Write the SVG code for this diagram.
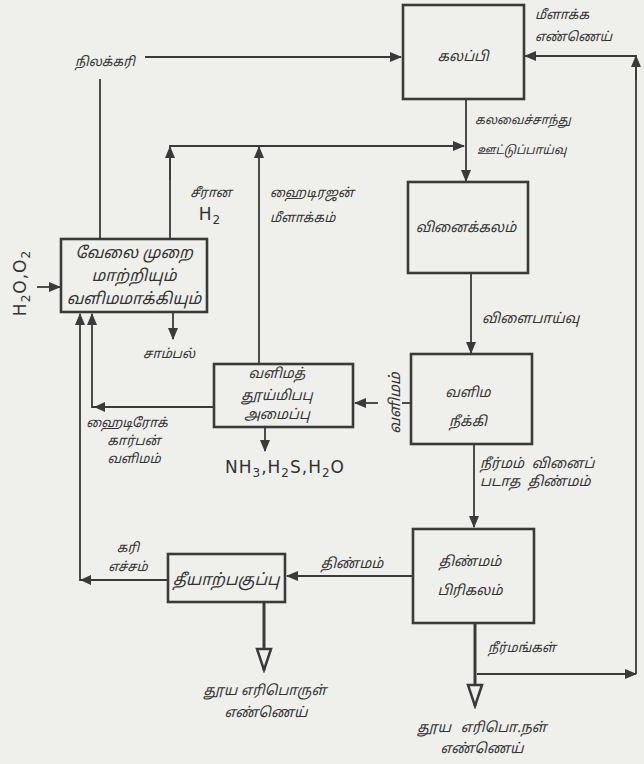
<svg xmlns="http://www.w3.org/2000/svg" width="644" height="764" viewBox="0 0 644 764">
<defs>
<marker id="ar" markerUnits="userSpaceOnUse" markerWidth="12" markerHeight="10" refX="11" refY="5" orient="auto"><path d="M0,0 L12,5 L0,10 z" fill="#3a3a3a"/></marker>
<marker id="op" markerUnits="userSpaceOnUse" markerWidth="26" markerHeight="18" refX="23" refY="9" orient="auto"><path d="M2,2 L23,9 L2,16 z" fill="#efefec" stroke="#3a3a3a" stroke-width="2.5" stroke-linejoin="miter"/></marker>
<style>
.b{fill:none;stroke:#3a3a3a;stroke-width:2.6}
.c{fill:none;stroke:#3a3a3a;stroke-width:1.8}
.t{stroke-width:3}
.ta{font-family:"Noto Sans Tamil","Noto Sans","Lohit Tamil",sans-serif;font-size:13px;font-style:italic;fill:#333}
.tb{font-family:"Noto Sans Tamil","Noto Sans","Lohit Tamil",sans-serif;font-size:14px;font-style:italic;fill:#333;text-anchor:middle}
.f{font-family:"DejaVu Sans","Liberation Sans",sans-serif;font-size:17px;fill:#333;letter-spacing:1px}
.m{text-anchor:middle}
.s12{font-size:12px}
.s14{font-size:14px}
.s15{font-size:15px}
.s16{font-size:16px}
</style>
</defs>
<rect width="644" height="764" fill="#efefec"/>

<g id="mixer"><rect class="b" x="403" y="5" width="121" height="94"/><text class="tb" x="463" y="61">கலப்பி</text></g>
<g id="reactor"><rect class="b" x="408" y="182" width="120" height="91"/><text class="tb" x="466" y="232">வினைக்கலம்</text></g>
<g id="degasser"><rect class="b" x="411" y="354" width="121" height="90"/><text class="tb" x="468" y="397">வளிம</text><text class="tb" x="468" y="426">நீக்கி</text></g>
<g id="solidsep"><rect class="b" x="413" y="529" width="121" height="94"/><text class="tb" x="470" y="566">திண்மம்</text><text class="tb" x="470" y="595">பிரிகலம்</text></g>
<g id="gasifier"><rect class="b" x="61" y="239" width="146" height="73"/><text class="tb s16" x="134" y="258">வேலை முறை</text><text class="tb s16" x="134" y="281">மாற்றியும்</text><text class="tb s16" x="134" y="304">வளிமமாக்கியும்</text></g>
<g id="purifier"><rect class="b" x="214" y="364" width="139" height="63"/><text class="tb" x="277" y="378">வளிமத்</text><text class="tb" x="277" y="400">தூய்மிபபு</text><text class="tb" x="277" y="419">அமைப்பு</text></g>
<g id="filter"><rect class="b" x="168" y="554" width="117" height="48"/><text class="tb s16" x="226" y="585">தீயாற்பகுப்பு</text></g>

<g id="connectors">
<path class="c" d="M145,57 H401" marker-end="url(#ar)"/>
<path class="c" d="M100,79 V239"/>
<path class="c" d="M636,674 V56 H525" marker-end="url(#ar)"/>
<path class="c" d="M636,80 V56" marker-end="url(#ar)"/>
<path class="c" d="M466,99 V181" marker-end="url(#ar)"/>
<path class="c" d="M170,239 V146 H464" marker-end="url(#ar)"/>
<path class="c" d="M170,180 V147" marker-end="url(#ar)"/>
<path class="c" d="M259,364 V147" marker-end="url(#ar)"/>
<path class="c" d="M471,273 V353" marker-end="url(#ar)"/>
<path class="c" d="M411,403 H402"/>
<path class="c" d="M378,403 H355" marker-end="url(#ar)"/>
<path class="c" d="M214,407 H92 V314" marker-end="url(#ar)"/>
<path d="M94,407 L105,402 L105,412 z" fill="#3a3a3a"/>
<path class="c" d="M265,427 V451" marker-end="url(#ar)"/>
<path class="c" d="M173,312 V339" marker-end="url(#ar)"/>
<path class="c" d="M37,287 H60" marker-end="url(#ar)"/>
<path class="c" d="M474,444 V527" marker-end="url(#ar)"/>
<path class="c" d="M413,576 H287" marker-end="url(#ar)"/>
<path class="c" d="M168,580 H80 V314" marker-end="url(#ar)"/>
<path d="M80,580 L91,575 L91,585 z" fill="#3a3a3a"/>
<path class="c t" d="M264,602 V670" marker-end="url(#op)"/>
<path class="c t" d="M475,623 V706" marker-end="url(#op)"/>
<path class="c" d="M477,674 H636" marker-end="url(#ar)"/>
</g>

<g id="labels">
<text class="ta" x="75" y="66">நிலக்கரி</text>
<text class="ta" x="535" y="19">மீளாக்க</text>
<text class="ta" x="535" y="41">எண்ணெய்</text>
<text class="ta s12" x="475" y="124">கலவைச்சாந்து</text>
<text class="ta s12" x="477" y="154">ஊட்டுப்பாய்வு</text>
<text class="ta m" x="211" y="197">சீரான</text>
<text class="f m" x="210" y="220">H<tspan font-size="12" dy="4">2</tspan></text>
<text class="ta" x="270" y="197">ஹைடிரஜன்</text>
<text class="ta" x="270" y="222">மீளாக்கம்</text>
<text class="ta s14" x="482" y="323">விளைபாய்வு</text>
<text class="ta" x="143" y="358">சாம்பல்</text>
<text class="f m" transform="translate(26,283) rotate(-90)">H<tspan font-size="12" dy="4">2</tspan><tspan dy="-4">O,O</tspan><tspan font-size="12" dy="4">2</tspan></text>
<text class="ta m s15" transform="translate(396,403) rotate(-90)" dy="4">வளிமம்</text>
<text class="ta m" x="127" y="427">ஹைடிரோக்</text>
<text class="ta m" x="134" y="445">கார்பன்</text>
<text class="ta m" x="134" y="463">வளிமம்</text>
<text class="f" x="225" y="473">NH<tspan font-size="12" dy="4">3</tspan><tspan dy="-4">,H</tspan><tspan font-size="12" dy="4">2</tspan><tspan dy="-4">S,H</tspan><tspan font-size="12" dy="4">2</tspan><tspan dy="-4">O</tspan></text>
<text class="ta s14" x="480" y="468" word-spacing="4">நீர்மம் வினைப்</text>
<text class="ta s14" x="480" y="486" word-spacing="4">படாத திண்மம்</text>
<text class="ta m" x="128" y="552">கரி</text>
<text class="ta m" x="128" y="571">எச்சம்</text>
<text class="ta m s14" x="352" y="568">திண்மம்</text>
<text class="ta" x="488" y="652">நீர்மங்கள்</text>
<text class="ta m s14" x="265" y="695">தூய எரிபொருள்</text>
<text class="ta m s14" x="266" y="717">எண்ணெய்</text>
<text class="ta m s14" x="482" y="732" word-spacing="6">தூய எரிபொ.நள்</text>
<text class="ta m s14" x="482" y="753">எண்ணெய்</text>
</g>
</svg>
